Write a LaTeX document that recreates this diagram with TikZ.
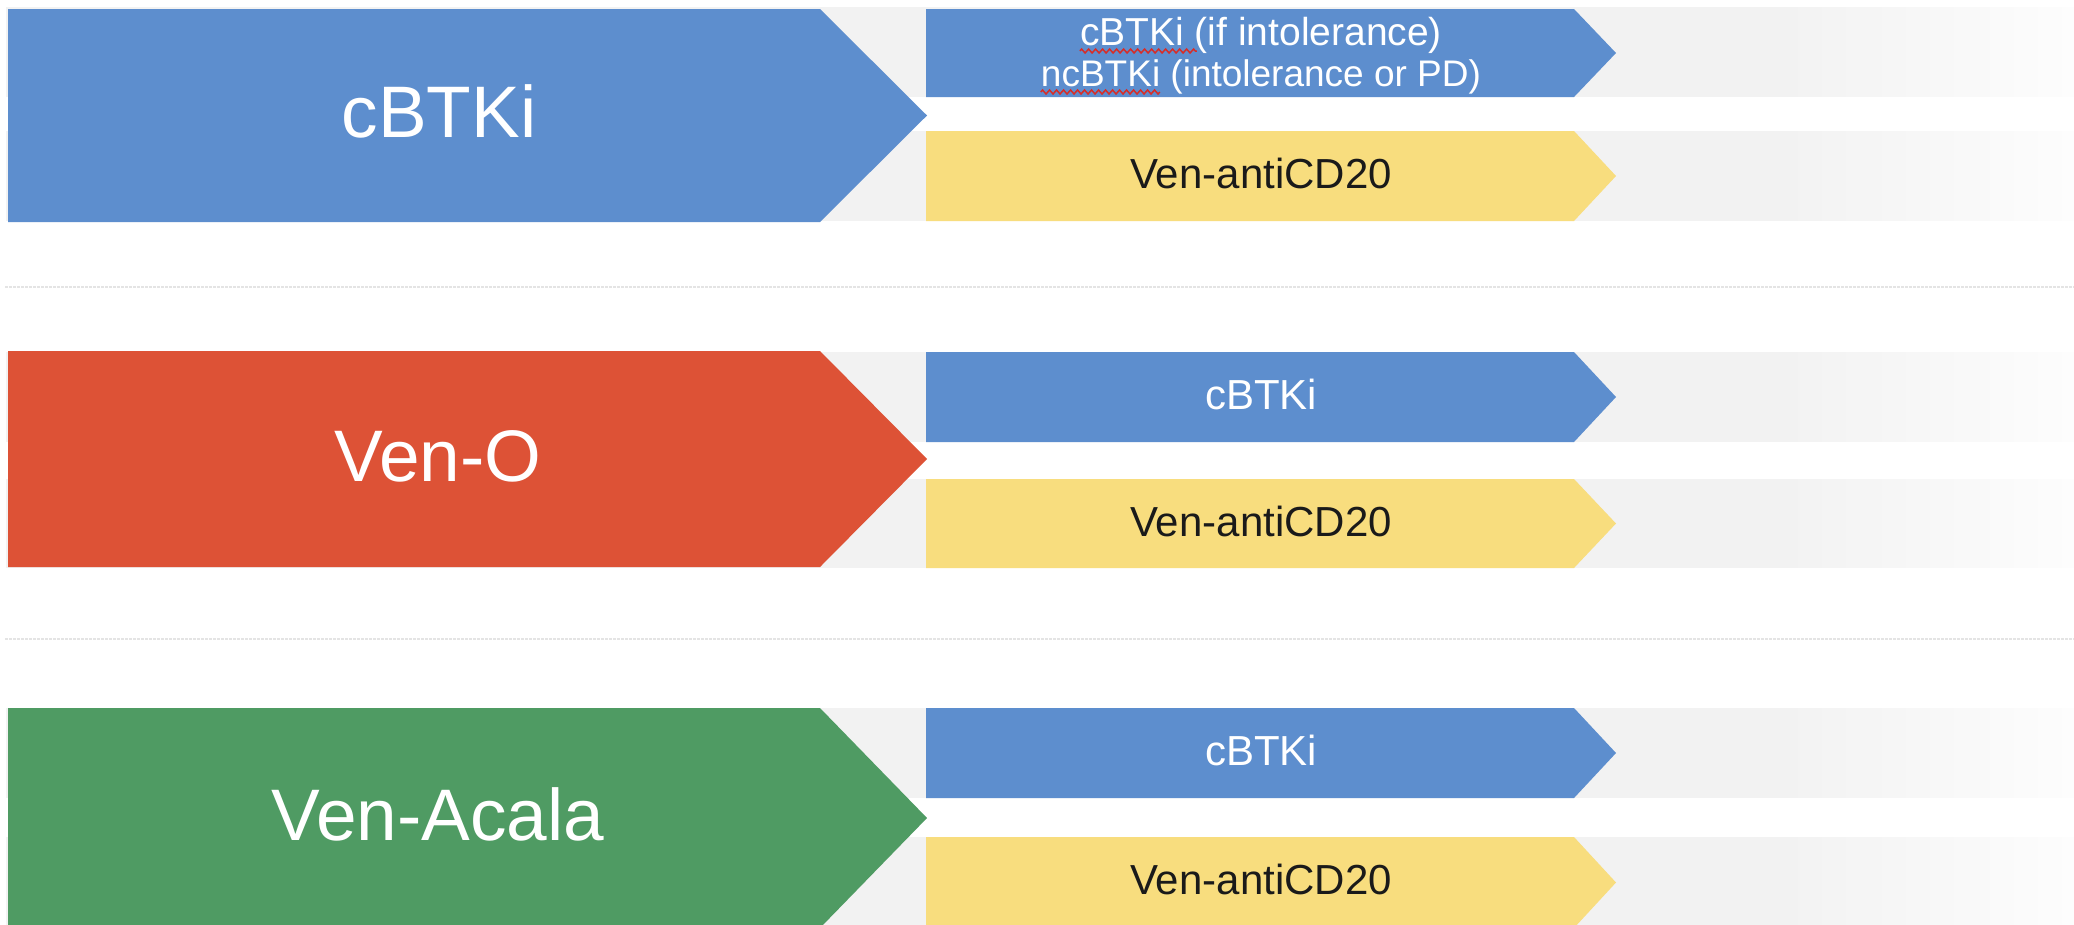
\documentclass[tikz,border=0pt]{standalone}
\usepackage{fontspec}
\setmainfont{Liberation Sans}
\usetikzlibrary{decorations.pathmorphing}
\definecolor{cblue}{RGB}{93,142,206}
\definecolor{cred}{RGB}{221,82,54}
\definecolor{cgreen}{RGB}{79,155,99}
\definecolor{cyellow}{RGB}{248,221,126}
\definecolor{bandgray}{RGB}{242,242,242}
\definecolor{bandend}{RGB}{253,253,253}
\definecolor{sepgray}{RGB}{228,228,228}
\definecolor{ytext}{RGB}{26,26,26}
\definecolor{wavyred}{RGB}{215,45,40}
\newcommand{\bandrow}[2]{%
  \fill[bandgray] (6,#1) rectangle (1786,#2);
  \foreach \k in {0,...,23}{%
    \pgfmathtruncatemacro{\pmix}{(\k+0.5)/24*100}%
    \fill[bandend!\pmix!bandgray] ({1786+\k*12},#1) rectangle ({1786+\k*12+12.6},#2);}}
\newcommand{\bigarrowpath}[3]{%
  \fill[#1] (8,#2) -- (820,#2) -- (927,{(#2+#3)/2}) -- (820,#3) -- (8,#3) -- cycle;}
\newcommand{\smallarrowpath}[3]{%
  \fill[#1] (926,#2) -- (1574,#2) -- (1616,{(#2+#3)/2}) -- (1574,#3) -- (926,#3) -- cycle;}
\begin{document}
\begin{tikzpicture}[x=1pt,y=-1pt,
  bigtxt/.style={font=\fontsize{73}{80}\selectfont, text=white, inner sep=0pt},
  smalltxt/.style={font=\fontsize{42}{48}\selectfont, inner sep=0pt},
  twotxt/.style={text=white, inner sep=0pt, anchor=base},
  wavy/.style={draw=wavyred, line width=1.5pt, decorate, decoration={zigzag, amplitude=2pt, segment length=7pt}},
  sepline/.style={draw=sepgray, line width=1.6pt, dash pattern=on 3pt off 1pt}]
\useasboundingbox (0,0) rectangle (2074,924);
\clip (0,0) rectangle (2074,924);
\fill[white] (0,0) rectangle (2074,924);
% background bands
\bandrow{7}{97}\bandrow{131}{221}
\bandrow{352}{442}\bandrow{479}{568}
\bandrow{708}{798}\bandrow{837}{928}
% separators
\draw[sepline] (5,287) -- (2074,287);
\draw[sepline] (5,639) -- (2074,639);
% big arrows
\bigarrowpath{cblue}{9}{222}
\bigarrowpath{cred}{351}{567}
\bigarrowpath{cgreen}{708}{928}
% small arrows
\smallarrowpath{cblue}{9}{97}
\smallarrowpath{cyellow}{131}{221}
\smallarrowpath{cblue}{352}{442}
\smallarrowpath{cyellow}{479}{568}
\smallarrowpath{cblue}{708}{798}
\smallarrowpath{cyellow}{837}{928}
% labels
\node[bigtxt] (m1) at (439,111) {cBTKi};
\node[bigtxt] (m2) at (438,456) {Ven-O};
\node[bigtxt] (m3) at (438,814) {Ven-Acala};
\node[twotxt, font=\fontsize{39}{44}\selectfont] (a1l1) at (1261,45) {cBTKi (if intolerance)};
\node[twotxt, font=\fontsize{37}{44}\selectfont] (a1l2) at (1261,86) {ncBTKi (intolerance or PD)};
\draw[wavy] ([yshift=-6pt]a1l1.base west) -- ++(117,0);
\draw[wavy] ([yshift=-6pt]a1l2.base west) -- ++(119,0);
\node[smalltxt, text=ytext] (b1) at (1261,173) {Ven-antiCD20};
\node[smalltxt, text=white] (a2) at (1261,394) {cBTKi};
\node[smalltxt, text=ytext] (b2) at (1261,521) {Ven-antiCD20};
\node[smalltxt, text=white] (a3) at (1261,750) {cBTKi};
\node[smalltxt, text=ytext] (b3) at (1261,879) {Ven-antiCD20};
\end{tikzpicture}
\end{document}
